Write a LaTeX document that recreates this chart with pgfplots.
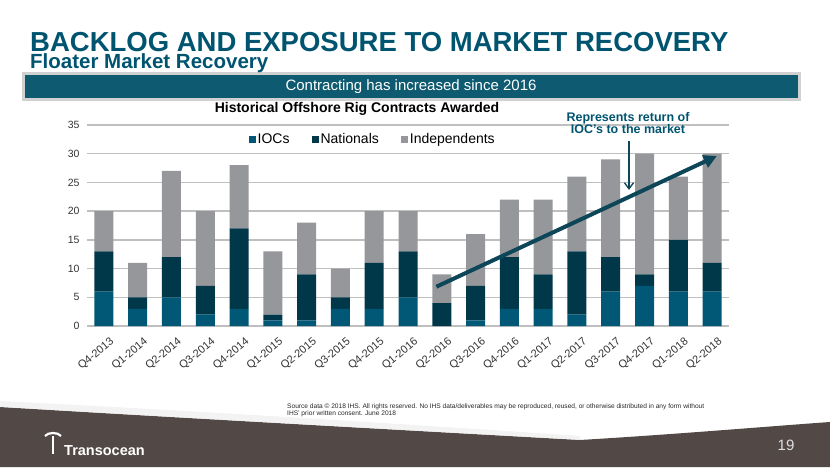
\documentclass[border=0pt]{standalone}
\usepackage{pgfplots}
\pgfplotsset{compat=1.18}
\usepackage{fontspec}
\setmainfont{Liberation Sans}
\usetikzlibrary{arrows.meta}
\definecolor{ioc}{RGB}{0,88,118}
\definecolor{nat}{RGB}{0,56,74}
\definecolor{ind}{RGB}{150,151,155}
\definecolor{headc}{RGB}{0,84,112}
\definecolor{banner}{RGB}{14,90,112}
\definecolor{arrowc}{RGB}{12,70,88}
\definecolor{footc}{RGB}{82,72,70}
\newcommand{\fs}[1]{\fontsize{#1}{#1}\selectfont}

\begin{document}
\begin{tikzpicture}[x=1pt,y=1pt]
\path[use as bounding box] (0,0) rectangle (830,467);
% footer
\fill[footc] (0,0) -- (0,60) .. controls (200,48) and (420,36) .. (580,27) .. controls (680,33) and (760,40) .. (830,45) -- (830,0) -- cycle;
\fill[black!8, opacity=0.6] (0,60) .. controls (200,48) and (420,36) .. (580,27) -- (580,31) .. controls (420,42) and (200,56) .. (0,66) -- cycle;
\node[anchor=base west, inner sep=0pt, text=white, font=\fs{14.5}\bfseries] at (64,12) {Transocean};
\draw[white, line width=2pt] (53,31) -- (53,13);
\draw[white, line width=2.2pt] (45,31) .. controls (48,35) and (58,35) .. (61,31);
\node[text=black!12, font=\fs{15}] at (786,22) {19};
\node[anchor=north west, align=left, font=\fs{6.6}, text=black!85, inner sep=0pt] at (287,63)
  {Source data \textcopyright{} 2018 IHS. All rights reserved. No IHS data/deliverables may be reproduced, reused, or otherwise distributed in any form without\\IHS’ prior written consent. June 2018};
% headings
\node[anchor=base west, inner sep=0pt, text=headc, font=\fs{27.5}\bfseries] at (30,415) {BACKLOG AND EXPOSURE TO MARKET RECOVERY};
\node[anchor=base west, inner sep=0pt, text=headc, font=\fs{20.5}\bfseries] at (30,398) {Floater Market Recovery};
\fill[black, opacity=0.18] (22,366) rectangle (801,395);
\fill[banner] (25,369) rectangle (798,392);
\node[text=white, font=\fs{15}] at (411,380.5) {Contracting has increased since 2016};
\node[font=\fs{14}\bfseries] at (357,358) {Historical Offshore Rig Contracts Awarded};

\begin{axis}[
    at={(87pt,141pt)}, anchor=south west,
    scale only axis, width=642pt, height=201pt,
    ybar stacked, bar width=19pt,
    xmin=-0.5, xmax=18.5, ymin=0, ymax=35,
    ytick={0,5,...,35},
    xtick={0,...,18},
    xticklabels={Q4-2013,Q1-2014,Q2-2014,Q3-2014,Q4-2014,Q1-2015,Q2-2015,Q3-2015,Q4-2015,Q1-2016,Q2-2016,Q3-2016,Q4-2016,Q1-2017,Q2-2017,Q3-2017,Q4-2017,Q1-2018,Q2-2018},
    /pgf/number format/assume math mode=true,
    xticklabel style={rotate=40, anchor=north east, font=\fs{11}, text=black!80, xshift=1pt, yshift=-8pt},
    yticklabel style={font=\fs{10.5}, text=black!80, xshift=-4pt},
    axis line style={draw=none},
    major tick length=0pt,
    ymajorgrids, grid style={draw=black!25, line width=1.3pt},
    clip=false,
    legend style={at={(0.445,0.93)}, anchor=center, draw=none, fill=none,
        legend columns=3, font=\fs{14},
        /tikz/every even column/.append style={column sep=20pt}},
    legend image code/.code={\fill[#1] (0pt,-4pt) rectangle (7pt,3pt);},
]
\addplot[fill=ioc, draw=none] coordinates {
 (0,6) (1,3) (2,5) (3,2) (4,3) (5,1) (6,1) (7,3) (8,3) (9,5)
 (10,0) (11,1) (12,3) (13,3) (14,2) (15,6) (16,7) (17,6) (18,6)};
\addlegendentry{IOCs}
\addplot[fill=nat, draw=none] coordinates {
 (0,7) (1,2) (2,7) (3,5) (4,14) (5,1) (6,8) (7,2) (8,8) (9,8)
 (10,4) (11,6) (12,9) (13,6) (14,11) (15,6) (16,2) (17,9) (18,5)};
\addlegendentry{Nationals}
\addplot[fill=ind, draw=none] coordinates {
 (0,7) (1,6) (2,15) (3,13) (4,11) (5,11) (6,9) (7,5) (8,9) (9,7)
 (10,5) (11,9) (12,10) (13,13) (14,13) (15,17) (16,21) (17,11) (18,19)};
\addlegendentry{Independents}
\coordinate (a0) at (axis cs:9.84,6.84);
\coordinate (a1) at (axis cs:18.14,29.6);
\coordinate (b0) at (axis cs:15.54,32.2);
\coordinate (b1) at (axis cs:15.54,23.7);
\end{axis}
\draw[line width=4pt, arrowc, -{Triangle[length=13pt,width=13pt]}] (a0) -- (a1);
\draw[line width=1.3pt, arrowc, -{Straight Barb[length=6pt,width=9pt]}] (b0) -- (b1);
\node[align=center, font=\fs{12.5}\bfseries, text=headc] at (628,344) {Represents return of\\IOC’s to the market};
\end{tikzpicture}
\end{document}
